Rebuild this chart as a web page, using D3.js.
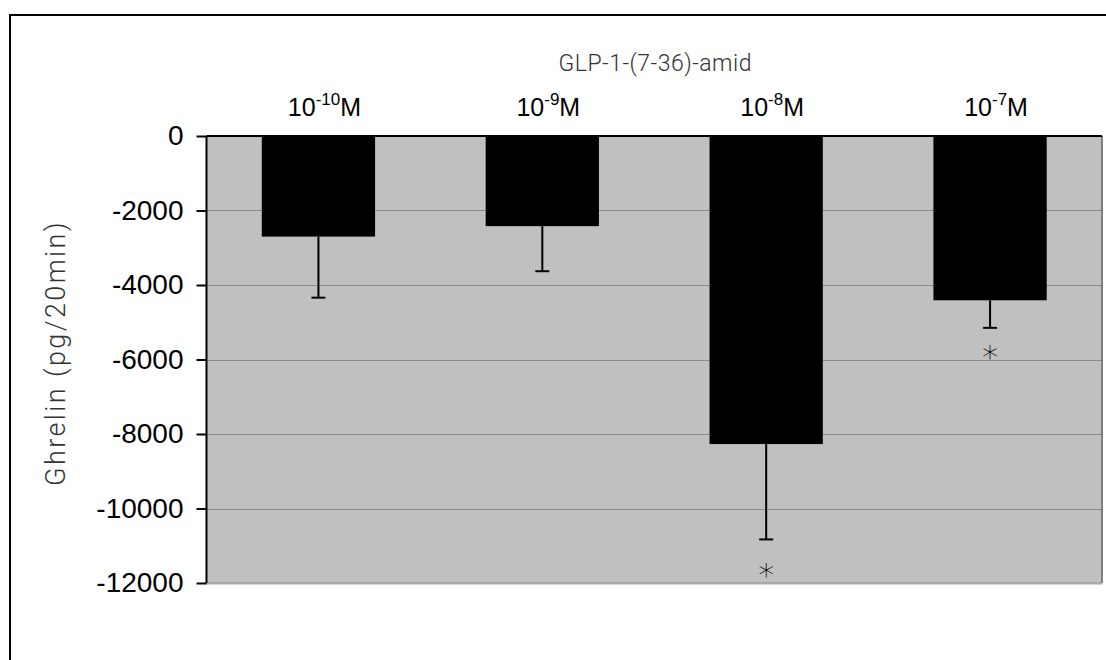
<!DOCTYPE html>
<html>
<head>
<meta charset="utf-8">
<script src="https://cdn.jsdelivr.net/npm/d3@7"></script>
<style>
  body { margin: 0; background: #fff; }
  svg { display: block; }
</style>
</head>
<body>
<div id="viz"></div>
<script>
/* GLP-1 dose vs ghrelin change, bar chart with error bars */

var doses = ['-10', '-9', '-8', '-7'],      // exponents for 10^x M
    means = [-2700, -2420, -8270, -4410],
    lows = [-4340, -3630, -10830, -5150],   // end of the (downward) error bars
    stars = [null, null, -11650, -5800],    // where the * sits, null = none
    yTicks = [0, -2000, -4000, -6000, -8000, -10000, -12000],
    title = 'GLP-1-(7-36)-amid',
    yLabel = 'Ghrelin (pg/20min)';

var W = 1106, H = 660,
    margin = { top: 136, right: 4, bottom: 77, left: 206.5 },
    width = W - margin.left - margin.right,
    height = H - margin.top - margin.bottom;

var svg = d3.select('#viz').append('svg')
    .attr('width', W)
    .attr('height', H);

// label gets cut at the top, like the original
svg.append('clipPath')
    .attr('id', 'ylab-clip')
    .append('rect')
    .attr('x', 0).attr('y', 224)
    .attr('width', 200).attr('height', 400);

// outer chart frame (runs off the right / bottom edge like the original)
svg.append('rect')
    .attr('x', 10).attr('y', 15)
    .attr('width', W + 20).attr('height', H + 20)
    .attr('fill', 'none')
    .attr('stroke', '#000')
    .attr('stroke-width', 2);

var x = d3.scaleBand()
    .domain(doses)
    .range([0, width])
    .paddingInner(0.494)
    .paddingOuter(0.247);

var y = d3.scaleLinear()
    .domain([0, -12000])
    .range([0, height]);

var g = svg.append('g')
    .attr('transform', 'translate(' + margin.left + ',' + margin.top + ')');

// plot area
g.append('rect')
    .attr('width', width)
    .attr('height', height)
    .attr('fill', '#c0c0c0');

g.append('line')
    .attr('x1', width).attr('x2', width)
    .attr('y1', 0).attr('y2', height)
    .attr('stroke', '#808080')
    .attr('stroke-width', 2);

// grid lines
g.append('g')
    .selectAll('line')
    .data(yTicks.slice(1))
    .enter().append('line')
    .attr('x1', 0).attr('x2', width)
    .attr('y1', function(d) { return Math.round(y(d)) + 0.5; })
    .attr('y2', function(d) { return Math.round(y(d)) + 0.5; })
    .attr('stroke', '#555')
    .attr('stroke-width', function(d) { return d === -12000 ? 2 : 1; })
    .attr('stroke-dasharray', '1,1');

// bars
g.append('g')
    .selectAll('rect')
    .data(means)
    .enter().append('rect')
    .attr('x', function(d, i) { return x(doses[i]); })
    .attr('y', y(0))
    .attr('width', x.bandwidth())
    .attr('height', function(d) { return y(d) - y(0); })
    .attr('fill', '#000');

// error bars
var err = g.append('g')
    .selectAll('g')
    .data(lows)
    .enter().append('g')
    .attr('transform', function(d, i) {
      return 'translate(' + (x(doses[i]) + x.bandwidth() / 2) + ',0)';
    });

err.append('line')
    .attr('x1', 0).attr('x2', 0)
    .attr('y1', function(d, i) { return y(means[i]); })
    .attr('y2', function(d) { return y(d); })
    .attr('stroke', '#000')
    .attr('stroke-width', 2);

err.append('line')
    .attr('x1', -7).attr('x2', 7)
    .attr('y1', function(d) { return y(d); })
    .attr('y2', function(d) { return y(d); })
    .attr('stroke', '#000')
    .attr('stroke-width', 2);

// significance stars
g.append('g')
    .selectAll('text')
    .data(stars)
    .enter().append('text')
    .filter(function(d) { return d !== null; })
    .attr('x', function(d) { return x(doses[stars.indexOf(d)]) + x.bandwidth() / 2; })
    .attr('y', function(d) { return y(d) + 16; })
    .attr('text-anchor', 'middle')
    .attr('font-family', 'DejaVu Sans, sans-serif')
    .attr('font-weight', 200)
    .attr('font-size', 32)
    .attr('fill', '#000')
    .text('*');

// y axis
var yAxis = d3.axisLeft(y)
    .tickValues(yTicks)
    .tickSize(10)
    .tickPadding(13)
    .tickFormat(d3.format('d'));

var yG = g.append('g').call(yAxis);
yG.select('.domain').attr('stroke-width', 2).attr('d', 'M0,0V' + height);
yG.selectAll('.tick line').attr('stroke-width', 2);
yG.selectAll('.tick text')
    .attr('font-family', 'Liberation Sans, Arial, sans-serif')
    .attr('font-size', 28)
    .attr('fill', '#000')
    .text(function(d) { return d === 0 ? '0' : '-' + Math.abs(d); });

// zero line on top
g.append('line')
    .attr('x1', 0).attr('x2', width)
    .attr('y1', y(0)).attr('y2', y(0))
    .attr('stroke', '#000')
    .attr('stroke-width', 2);

// category labels across the top
var cat = g.append('g')
    .selectAll('text')
    .data(doses)
    .enter().append('text')
    .attr('x', function(d) { return x(d) + x.bandwidth() / 2 + 6; })
    .attr('y', -20)
    .attr('text-anchor', 'middle')
    .attr('font-family', 'Liberation Sans, Arial, sans-serif')
    .attr('font-size', 25)
    .attr('fill', '#000');

cat.append('tspan').text('10');
cat.append('tspan')
    .attr('dy', -11)
    .attr('font-size', 17)
    .text(function(d) { return d; });
cat.append('tspan')
    .attr('dy', 11)
    .text('M');

// title
svg.append('text')
    .attr('x', margin.left + width / 2 + 1)
    .attr('y', 71)
    .attr('text-anchor', 'middle')
    .attr('font-family', 'Roboto, sans-serif')
    .attr('font-weight', 300)
    .attr('font-size', 23)
    .attr('letter-spacing', 0.5)
    .attr('fill', '#333')
    .text(title);

// y label
svg.append('g')
    .attr('clip-path', 'url(#ylab-clip)')
    .append('text')
    .attr('transform', 'translate(65,' + 353 + ') rotate(-90)')
    .attr('text-anchor', 'middle')
    .attr('font-family', 'Roboto, sans-serif')
    .attr('font-weight', 300)
    .attr('font-size', 27)
    .attr('letter-spacing', 2.4)
    .attr('fill', '#333')
    .text(yLabel);
</script>
</body>
</html>
